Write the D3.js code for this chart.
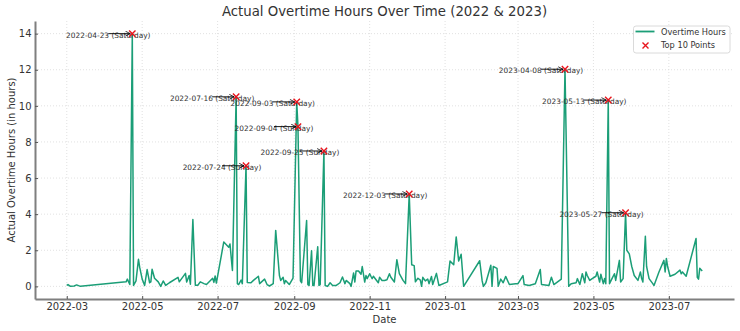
<!DOCTYPE html>
<html><head><meta charset="utf-8">
<script src="https://cdn.jsdelivr.net/npm/d3@7"></script>
<style>
html,body{margin:0;padding:0;background:#fff;}
svg{display:block;font-family:"DejaVu Sans",sans-serif;}
</style></head>
<body>
<svg id="chart" width="740" height="331"></svg>
<script>
const dates = ["2022-03-01","2022-03-02","2022-03-04","2022-03-07","2022-03-09","2022-03-12","2022-04-18","2022-04-19","2022-04-21","2022-04-23","2022-04-24","2022-04-26","2022-04-28","2022-04-29","2022-05-01","2022-05-03","2022-05-05","2022-05-07","2022-05-08","2022-05-09","2022-05-11","2022-05-14","2022-05-16","2022-05-18","2022-05-20","2022-05-23","2022-05-30","2022-05-31","2022-06-05","2022-06-06","2022-06-08","2022-06-09","2022-06-11","2022-06-13","2022-06-15","2022-06-17","2022-06-20","2022-06-22","2022-06-27","2022-06-28","2022-06-29","2022-06-30","2022-07-06","2022-07-10","2022-07-11","2022-07-13","2022-07-16","2022-07-17","2022-07-18","2022-07-20","2022-07-21","2022-07-24","2022-07-25","2022-07-28","2022-07-30","2022-08-03","2022-08-04","2022-08-08","2022-08-10","2022-08-12","2022-08-15","2022-08-17","2022-08-20","2022-08-21","2022-08-23","2022-08-24","2022-08-25","2022-08-28","2022-08-31","2022-09-03","2022-09-04","2022-09-06","2022-09-07","2022-09-11","2022-09-12","2022-09-13","2022-09-15","2022-09-16","2022-09-17","2022-09-20","2022-09-21","2022-09-22","2022-09-25","2022-09-26","2022-09-28","2022-09-30","2022-10-02","2022-10-05","2022-10-08","2022-10-10","2022-10-12","2022-10-13","2022-10-16","2022-10-17","2022-10-19","2022-10-20","2022-10-21","2022-10-23","2022-10-25","2022-10-26","2022-10-28","2022-10-29","2022-10-30","2022-11-01","2022-11-02","2022-11-03","2022-11-04","2022-11-08","2022-11-09","2022-11-11","2022-11-13","2022-11-15","2022-11-17","2022-11-18","2022-11-21","2022-11-23","2022-11-25","2022-11-28","2022-11-30","2022-12-03","2022-12-05","2022-12-07","2022-12-08","2022-12-10","2022-12-12","2022-12-13","2022-12-14","2022-12-16","2022-12-18","2022-12-19","2022-12-21","2022-12-22","2022-12-25","2022-12-27","2023-01-03","2023-01-05","2023-01-08","2023-01-10","2023-01-12","2023-01-14","2023-01-16","2023-01-29","2023-01-31","2023-02-01","2023-02-03","2023-02-07","2023-02-08","2023-02-09","2023-02-12","2023-02-13","2023-02-15","2023-02-17","2023-02-19","2023-02-22","2023-02-27","2023-03-01","2023-03-05","2023-03-06","2023-03-10","2023-03-15","2023-03-19","2023-03-20","2023-03-26","2023-03-28","2023-03-30","2023-04-05","2023-04-08","2023-04-11","2023-04-13","2023-04-17","2023-04-18","2023-04-20","2023-04-22","2023-04-24","2023-04-25","2023-04-26","2023-04-28","2023-04-30","2023-05-03","2023-05-04","2023-05-06","2023-05-07","2023-05-09","2023-05-10","2023-05-11","2023-05-13","2023-05-14","2023-05-16","2023-05-18","2023-05-19","2023-05-22","2023-05-23","2023-05-25","2023-05-27","2023-05-28","2023-05-30","2023-06-01","2023-06-03","2023-06-06","2023-06-08","2023-06-09","2023-06-10","2023-06-12","2023-06-13","2023-06-15","2023-06-18","2023-06-19","2023-06-23","2023-06-27","2023-06-28","2023-06-29","2023-06-30","2023-07-02","2023-07-06","2023-07-10","2023-07-11","2023-07-12","2023-07-15","2023-07-23","2023-07-24","2023-07-25","2023-07-26","2023-07-28"];
const hours = [0.05,0.1,0.0,0.02,0.08,0.0,0.25,0.4,0.1,14.0,0.05,0.3,1.5,1.05,0.4,0.05,0.93,0.2,0.25,0.95,0.45,0.25,0.0,0.3,0.05,0.2,0.5,0.25,0.72,0.24,0.6,0.12,3.7,0.06,0.06,0.25,0.15,0.1,0.45,0.22,0.58,0.18,2.46,2.17,2.35,0.88,10.5,0.15,0.1,0.35,0.15,6.68,0.22,0.2,0.33,0.56,0.15,0.4,0.1,0.02,0.15,3.1,0.6,0.33,0.5,0.15,0.33,0.1,0.45,10.22,8.85,0.3,0.2,3.65,0.1,0.05,1.97,0.05,0.05,2.2,0.05,0.1,7.5,0.05,0.0,0.2,0.05,0.05,0.2,0.52,0.15,0.33,0.15,0.0,0.74,0.24,0.85,0.85,0.67,1.1,0.24,0.6,0.43,0.7,0.56,0.43,0.56,0.2,0.5,0.33,0.33,0.37,0.7,0.52,0.24,1.48,0.7,0.33,0.15,5.12,1.2,1.15,0.25,0.45,0.35,0.0,0.5,0.3,0.4,0.15,0.55,0.1,0.72,0.05,0.25,1.4,1.2,2.74,1.4,1.78,0.0,1.42,0.3,0.0,0.2,1.17,0.0,1.1,1.0,0.0,0.4,0.2,0.55,0.1,0.15,0.15,0.6,0.1,0.05,0.15,0.93,0.1,0.05,0.5,0.1,0.4,12.03,0.0,0.15,0.2,0.43,0.1,0.7,0.2,0.8,0.6,0.33,0.43,0.56,0.8,0.24,0.67,0.15,0.43,0.15,10.32,0.15,0.43,0.7,0.33,1.44,0.24,0.43,4.08,2.0,1.8,1.1,0.6,0.33,0.8,0.43,0.24,2.78,1.1,0.43,0.15,0.05,0.8,1.44,0.8,1.55,1.1,0.56,0.67,0.9,0.7,0.8,0.56,2.65,0.5,0.4,1.0,0.85];

const topDates = ["2022-04-23","2023-04-08","2022-07-16","2023-05-13","2022-09-03","2022-09-04","2022-09-25","2022-07-24","2022-12-03","2023-05-27"];
const topValues = [14.0,12.03,10.5,10.32,10.22,8.85,7.5,6.68,5.12,4.08];
const topDays = ["Saturday","Saturday","Saturday","Saturday","Saturday","Sunday","Sunday","Sunday","Saturday","Saturday"];

const xTickLabels = ["2022-03","2022-05","2022-07","2022-09","2022-11","2023-01","2023-03","2023-05","2023-07"];
const yTickValues = [0,2,4,6,8,10,12,14];

const parse = d3.timeParse("%Y-%m-%d");
const data = dates.map((d,i)=>({date:parse(d), v:hours[i]}));
const topPts = topDates.map((d,i)=>({date:parse(d), v:topValues[i], label:d+" ("+topDays[i]+")"}));

const L=35, R=734, T=21, B=299;
const xExt = d3.extent(data, d=>d.date);
const span = xExt[1]-xExt[0];
const x = d3.scaleTime().domain([new Date(+xExt[0]-span*0.05), new Date(+xExt[1]+span*0.05)]).range([L,R]);
const yMin = 0, yMax = d3.max(hours);
const yPad = (yMax-yMin)*0.05;
const y = d3.scaleLinear().domain([yMin-yPad, yMax+yPad]).range([B,T]);

const svg = d3.select("#chart");
const xTicks = xTickLabels.map(s=>d3.timeParse("%Y-%m")(s));

// grid
const grid = svg.append("g");
grid.selectAll(".gx").data(xTicks).enter().append("line")
  .attr("x1",d=>x(d)).attr("x2",d=>x(d)).attr("y1",T).attr("y2",B)
  .attr("stroke","#d9d9d9").attr("stroke-width",0.8).attr("stroke-dasharray","1,2");
grid.selectAll(".gy").data(yTickValues).enter().append("line")
  .attr("x1",L).attr("x2",R).attr("y1",d=>y(d)).attr("y2",d=>y(d))
  .attr("stroke","#d9d9d9").attr("stroke-width",0.8).attr("stroke-dasharray","1,2");

// axes
const xAxis = d3.axisBottom(x).tickValues(xTicks).tickFormat(d3.timeFormat("%Y-%m")).tickSizeInner(-3).tickSizeOuter(0).tickPadding(3.5);
const gx = svg.append("g").attr("transform",`translate(0,${B})`).call(xAxis);
gx.select(".domain").attr("stroke","#7f7f7f").attr("stroke-width",2);
gx.selectAll(".tick line").attr("stroke","#555").attr("stroke-width",1);
gx.selectAll("text").attr("font-size","10px").attr("fill","#333").attr("font-family","DejaVu Sans");

const yAxis = d3.axisLeft(y).tickValues(yTickValues).tickSizeInner(-3).tickSizeOuter(0).tickPadding(3.5);
const gy = svg.append("g").attr("transform",`translate(${L},0)`).call(yAxis);
gy.select(".domain").attr("stroke","#7f7f7f").attr("stroke-width",2);
gy.selectAll(".tick line").attr("stroke","#555").attr("stroke-width",1);
gy.selectAll("text").attr("font-size","10px").attr("fill","#333").attr("font-family","DejaVu Sans");

// line
const line = d3.line().x(d=>x(d.date)).y(d=>y(d.v));
svg.append("path").datum(data).attr("d",line).attr("fill","none")
  .attr("stroke","#1b9e77").attr("stroke-width",1.5).attr("stroke-linejoin","round");

// annotations
svg.append("defs").append("marker").attr("id","ah").attr("viewBox","0 0 10 10")
  .attr("refX",9).attr("refY",5).attr("markerWidth",6).attr("markerHeight",6).attr("orient","auto")
  .attr("markerUnits","userSpaceOnUse")
  .append("path").attr("d","M1,1 L9,5 L1,9").attr("fill","none").attr("stroke","#000").attr("stroke-width",1.3);

const ann = svg.append("g");
topPts.forEach(t=>{
  const px=x(t.date), py=y(t.v);
  const tx=px-24, ty=py+1.5;
  ann.append("text").attr("x",tx).attr("y",ty).attr("text-anchor","middle").attr("dominant-baseline","central")
    .attr("font-size","7.4px").attr("fill","#333").text(t.label);
  ann.append("line").attr("x1",tx).attr("y1",py).attr("x2",px-2).attr("y2",py)
    .attr("stroke","#000").attr("stroke-width",0.9).attr("marker-end","url(#ah)");
});
// markers
const s=3.2;
topPts.forEach(t=>{
  const px=x(t.date), py=y(t.v);
  svg.append("path").attr("d",`M${px-s},${py-s}L${px+s},${py+s}M${px-s},${py+s}L${px+s},${py-s}`)
    .attr("stroke","#e8141c").attr("stroke-width",1.4).attr("fill","none");
});

// title & labels
svg.append("text").attr("x",(L+R)/2).attr("y",16).attr("text-anchor","middle")
  .attr("font-size","13.3px").attr("fill","#333").text("Actual Overtime Hours Over Time (2022 & 2023)");
svg.append("text").attr("x",(L+R)/2).attr("y",323).attr("text-anchor","middle")
  .attr("font-size","10px").attr("fill","#333").text("Date");
svg.append("text").attr("transform",`translate(15,${(T+B)/2}) rotate(-90)`).attr("text-anchor","middle")
  .attr("font-size","10px").attr("fill","#333").text("Actual Overtime Hours (in hours)");

// legend
const lg = svg.append("g");
lg.append("rect").attr("x",633.5).attr("y",26).attr("width",96.5).attr("height",27).attr("rx",2.5)
  .attr("fill","#fff").attr("fill-opacity",0.85).attr("stroke","#d0d0d0").attr("stroke-width",0.8);
lg.append("line").attr("x1",635.5).attr("x2",654.5).attr("y1",31.5).attr("y2",31.5)
  .attr("stroke","#1b9e77").attr("stroke-width",1.8);
lg.append("text").attr("x",661).attr("y",31.5).attr("dominant-baseline","central")
  .attr("font-size","8.2px").attr("fill","#333").text("Overtime Hours");
lg.append("path").attr("d","M642.5,42.5L648.5,48.5M642.5,48.5L648.5,42.5")
  .attr("stroke","#e8141c").attr("stroke-width",1.4);
lg.append("text").attr("x",661).attr("y",45).attr("dominant-baseline","central")
  .attr("font-size","8.2px").attr("fill","#333").text("Top 10 Points");
</script>
</body></html>
